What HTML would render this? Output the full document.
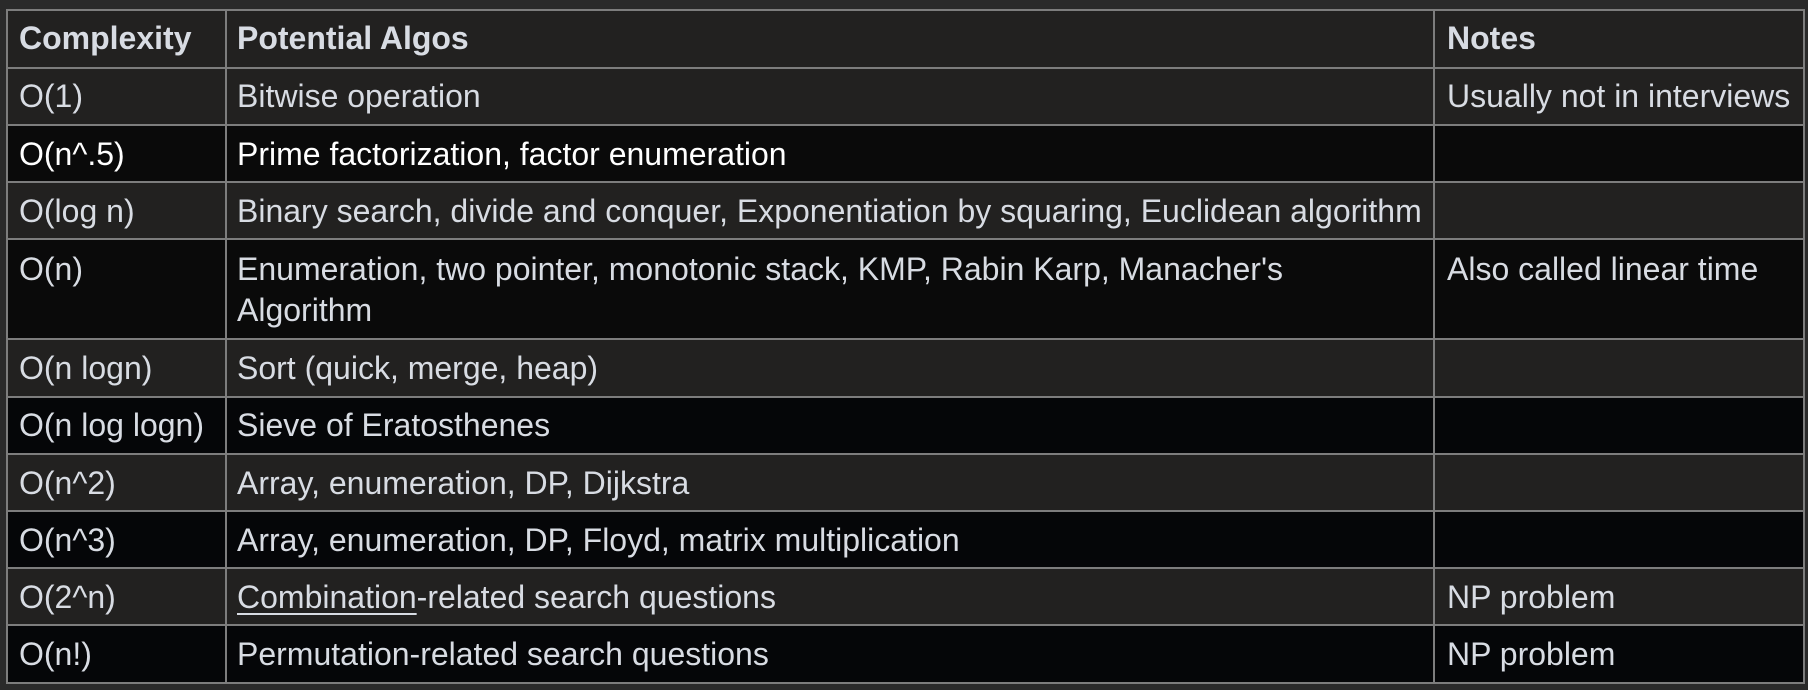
<!DOCTYPE html>
<html><head><style>
html,body{margin:0;padding:0;}
body{width:1808px;height:690px;background:#2a2a2a;position:relative;overflow:hidden;font-family:"Liberation Sans",Arial,sans-serif;font-size:32px;color:#d8dce3;}
.r{position:absolute;left:7px;width:1796px;}
.g{background:#222120;}
.b{background:#0a0a0a;}
.k{background:#050608;}
.c{position:absolute;top:0;white-space:nowrap;}
.c1{left:12px;}
.c2{left:230px;}
.c3{left:1440px;}
.hl{position:absolute;left:6px;width:1799px;height:2px;background:#7d7d7d;}
.vl{position:absolute;top:9px;height:675px;width:2px;background:#7d7d7d;}
</style></head><body>
<div class="r g" style="top:10px;height:57px;line-height:57px;font-weight:bold;"><span class="c c1">Complexity</span><span class="c c2">Potential Algos</span><span class="c c3">Notes</span></div>
<div class="r g" style="top:68px;height:57px;line-height:57px;"><span class="c c1">O(1)</span><span class="c c2">Bitwise operation</span><span class="c c3">Usually not in interviews</span></div>
<div class="r b" style="top:126px;height:56px;line-height:56px;color:#ffffff;"><span class="c c1">O(n^.5)</span><span class="c c2">Prime factorization, factor enumeration</span></div>
<div class="r g" style="top:183px;height:56px;line-height:56px;"><span class="c c1">O(log n)</span><span class="c c2">Binary search, divide and conquer, Exponentiation by squaring, Euclidean algorithm</span></div>
<div class="r b" style="top:240px;height:99px;line-height:41px;"><span class="c c1" style="top:9px">O(n)</span><span class="c c2" style="top:9px">Enumeration, two pointer, monotonic stack, KMP, Rabin Karp, Manacher's<br>Algorithm</span><span class="c c3" style="top:9px">Also called linear time</span></div>
<div class="r g" style="top:340px;height:56px;line-height:56px;"><span class="c c1">O(n logn)</span><span class="c c2">Sort (quick, merge, heap)</span></div>
<div class="r k" style="top:397px;height:57px;line-height:57px;"><span class="c c1">O(n log logn)</span><span class="c c2">Sieve of Eratosthenes</span></div>
<div class="r g" style="top:455px;height:56px;line-height:56px;"><span class="c c1">O(n^2)</span><span class="c c2">Array, enumeration, DP, Dijkstra</span></div>
<div class="r k" style="top:512px;height:56px;line-height:56px;"><span class="c c1">O(n^3)</span><span class="c c2">Array, enumeration, DP, Floyd, matrix multiplication</span></div>
<div class="r g" style="top:569px;height:56px;line-height:56px;"><span class="c c1">O(2^n)</span><span class="c c2"><span style="text-decoration:underline;text-decoration-thickness:2px;text-underline-offset:5px;">Combination</span>-related search questions</span><span class="c c3">NP problem</span></div>
<div class="r k" style="top:626px;height:56px;line-height:56px;"><span class="c c1">O(n!)</span><span class="c c2">Permutation-related search questions</span><span class="c c3">NP problem</span></div>

<div class="hl" style="top:9px"></div>
<div class="hl" style="top:67px"></div>
<div class="hl" style="top:124px"></div>
<div class="hl" style="top:181px"></div>
<div class="hl" style="top:238px"></div>
<div class="hl" style="top:338px"></div>
<div class="hl" style="top:396px"></div>
<div class="hl" style="top:453px"></div>
<div class="hl" style="top:510px"></div>
<div class="hl" style="top:567px"></div>
<div class="hl" style="top:624px"></div>
<div class="hl" style="top:682px"></div>
<div class="vl" style="left:6px"></div>
<div class="vl" style="left:225px"></div>
<div class="vl" style="left:1433px"></div>
<div class="vl" style="left:1803px"></div>
</body></html>
